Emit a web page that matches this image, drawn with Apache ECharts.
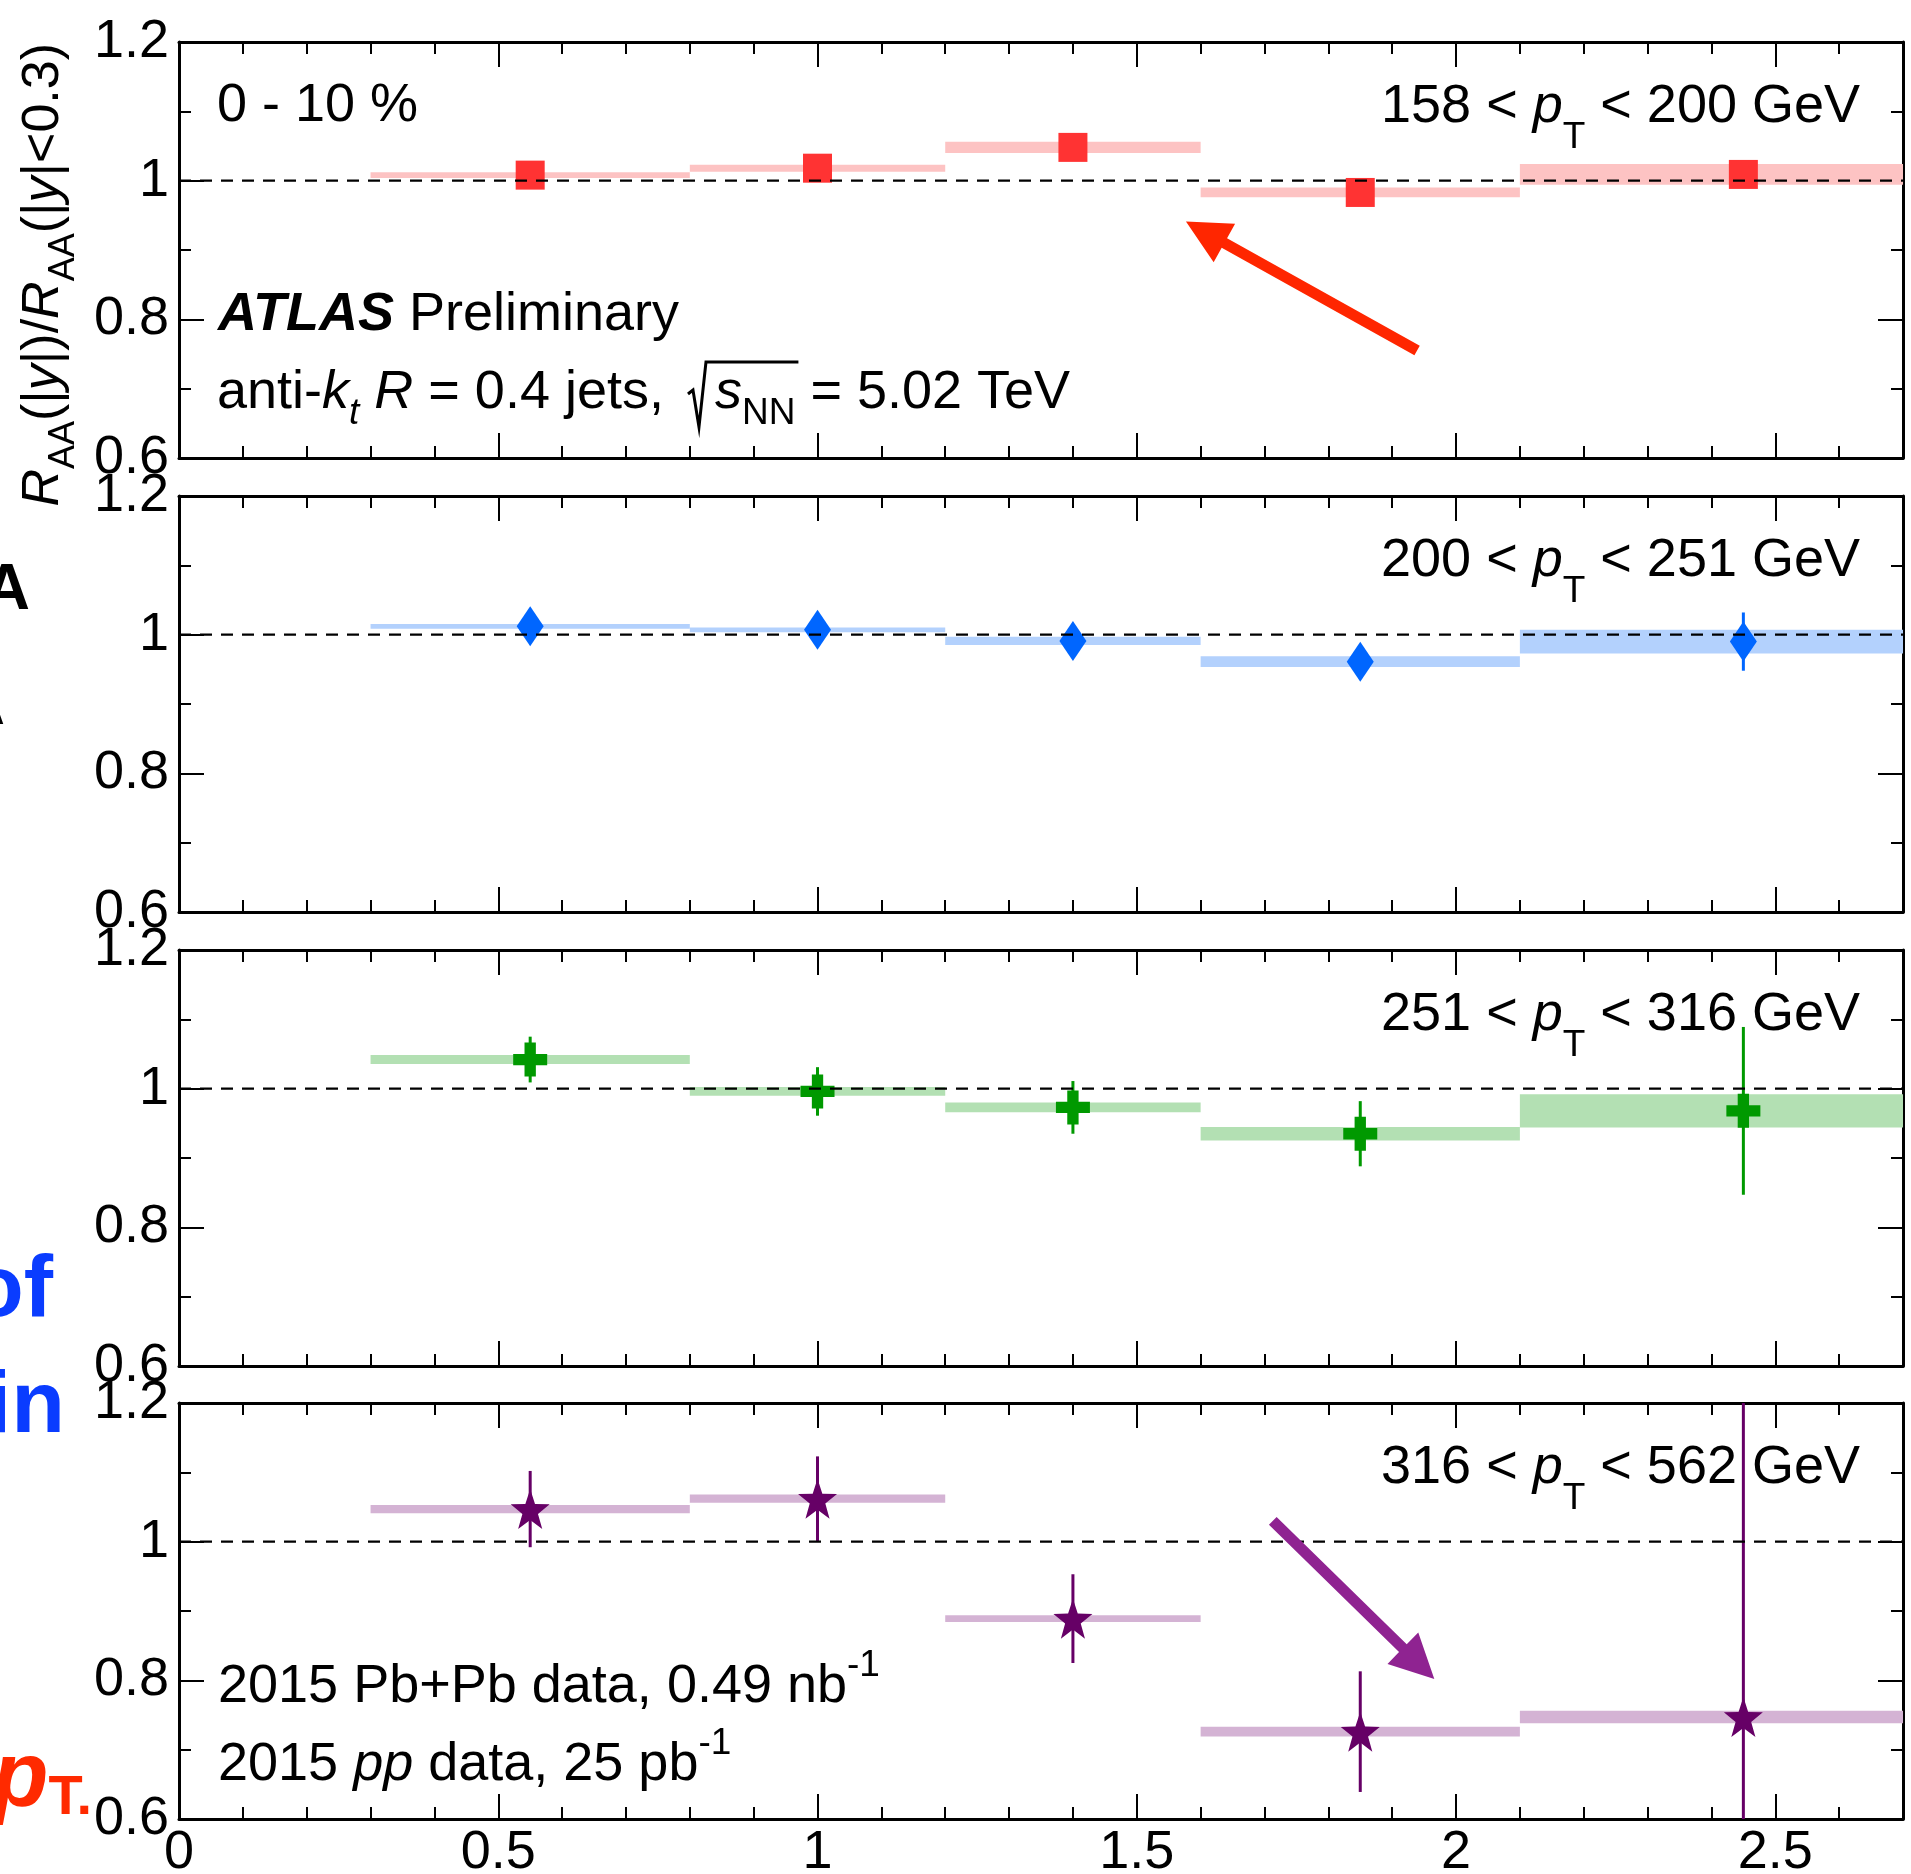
<!DOCTYPE html>
<html>
<head>
<meta charset="utf-8">
<script src="https://cdn.jsdelivr.net/npm/echarts@6/dist/echarts.min.js"></script>
<style>
  html, body { margin: 0; padding: 0; background: #ffffff; }
  #chart { width: 1911px; height: 1874px; }
</style>
</head>
<body>
<div id="chart"></div>
<script>
// ---- data -------------------------------------------------------------
// |y| bin edges and bin centres
const binEdges   = [0.3, 0.8, 1.2, 1.6, 2.1, 2.8];
const binCenters = [0.55, 1.0, 1.4, 1.85, 2.45];

// jet pT ranges in GeV, one per panel
const ptRanges = [[158, 200], [200, 251], [251, 316], [316, 562]];

// R_AA(|y|)/R_AA(|y|<0.3), statistical and systematic uncertainties
const ratio158 = [1.008, 1.018, 1.048, 0.983, 1.009];
const stat158  = [0.006, 0.007, 0.008, 0.009, 0.012];
const sys158   = [0.004, 0.005, 0.008, 0.007, 0.015];

const ratio200 = [1.012, 1.007, 0.991, 0.961, 0.990];
const stat200  = [0.010, 0.010, 0.012, 0.015, 0.042];
const sys200   = [0.0035, 0.0035, 0.006, 0.0077, 0.017];

const ratio251 = [1.042, 0.996, 0.973, 0.935, 0.968];
const stat251  = [0.033, 0.035, 0.038, 0.047, 0.121];
const sys251   = [0.0065, 0.0063, 0.007, 0.0098, 0.024];

const ratio316 = [1.047, 1.062, 0.889, 0.726, 0.747];
const stat316  = [0.055, 0.061, 0.064, 0.087, 0.550];
const sys316   = [0.006, 0.006, 0.005, 0.007, 0.009];

// axes
const xRange = [0, 2.7];
const yRange = [0.6, 1.2];
const xMajor = 0.5, xMinor = 0.1, yMajor = 0.2;
const unity = 1;

// annotation arrows [x_tail, y_tail, x_tip, y_tip] in data units
const arrowTop    = [[1.939, 0.755, 1.577, 0.941]];
const arrowBottom = [[1.713, 1.030, 1.966, 0.802]];

// ---- layout & style ---------------------------------------------------
const FONT = 'Liberation Sans';
const FS = 54, SS = 37, P = 14;
const TFS = 52, TSS = 36;          // axis title sizes
const K = 0.77;                    // baseline position as a fraction of the font size
const GRID_LEFT = 179, GRID_RIGHT = 8, GRID_H = 416;
const gridTops = [42, 496, 950, 1403];

function starSymbol() {
  const pts = [];
  for (let k = 0; k < 10; k++) {
    const a = -Math.PI / 2 + k * Math.PI / 5;
    const r = (k % 2) ? 0.4 : 1;
    pts.push((r * Math.cos(a)).toFixed(4) + ',' + (r * Math.sin(a)).toFixed(4));
  }
  return 'path://M' + pts.join('L') + 'Z';
}
const plusSymbol = 'path://M1,0H2V1H3V2H2V3H1V2H0V1H1Z';

const panels = [
  { ratio: ratio158, stat: stat158, sys: sys158, color: '#ff3333', band: '#fdc3c3', symbol: 'rect',       size: 29 },
  { ratio: ratio200, stat: stat200, sys: sys200, color: '#0066ff', band: '#b3d1fd', symbol: 'diamond',    size: [27, 40] },
  { ratio: ratio251, stat: stat251, sys: sys251, color: '#009900', band: '#b3e0b3', symbol: plusSymbol,   size: 34 },
  { ratio: ratio316, stat: stat316, sys: sys316, color: '#660066', band: '#d4b3d4', symbol: starSymbol(), size: [39, 40] }
];

const chart = echarts.init(document.getElementById('chart'), null, { renderer: 'canvas' });

// ---- axes -------------------------------------------------------------
const grids = [], xAxes = [], yAxes = [];
const blackLine = { color: '#000', width: 3 };
const tickLine = { color: '#000', width: 2 };
const labelStyle = { fontFamily: FONT, fontSize: FS, color: '#000' };

gridTops.forEach((top, g) => {
  grids.push({ left: GRID_LEFT, right: GRID_RIGHT, top: top, height: GRID_H, containLabel: false, outerBoundsMode: 'none' });
  const last = g === gridTops.length - 1;
  ['bottom', 'top'].forEach(pos => {
    // major ticks (with labels on the lowest panel)
    xAxes.push({
      type: 'value', gridIndex: g, position: pos, min: xRange[0], max: xRange[1], interval: xMajor,
      axisLine: { show: true, onZero: false, lineStyle: blackLine },
      axisTick: { show: true, inside: true, length: 25, lineStyle: tickLine },
      splitLine: { show: false },
      axisLabel: {
        show: last && pos === 'bottom', margin: 7, ...labelStyle,
        formatter: v => (Math.abs(v / xMajor - Math.round(v / xMajor)) < 1e-6 ? String(+v.toFixed(1)) : '')
      }
    });
    // minor ticks
    xAxes.push({
      type: 'value', gridIndex: g, position: pos, min: xRange[0], max: xRange[1], interval: xMinor,
      axisLine: { show: false, onZero: false },
      axisTick: { show: true, inside: true, length: 12, lineStyle: tickLine },
      splitLine: { show: false },
      axisLabel: { show: false }
    });
  });
  ['left', 'right'].forEach(pos => {
    yAxes.push({
      type: 'value', gridIndex: g, position: pos, min: yRange[0], max: yRange[1], interval: yMajor,
      axisLine: { show: true, onZero: false, lineStyle: blackLine },
      axisTick: { show: true, inside: true, length: 25, lineStyle: tickLine },
      minorTick: { show: true, splitNumber: 2, length: 12, lineStyle: tickLine },
      splitLine: { show: false },
      axisLabel: {
        show: pos === 'left', margin: 10, ...labelStyle,
        formatter: v => (Math.abs(v - 1) < 1e-9 ? '1' : v.toFixed(1))
      }
    });
  });
});

// ---- series -----------------------------------------------------------
const series = [];
function plotRect(cs) { return { x: cs.x, y: cs.y, width: cs.width, height: cs.height }; }

panels.forEach((p, g) => {
  const xi = 4 * g, yi = 2 * g;
  // systematic uncertainty boxes
  series.push({
    type: 'custom', xAxisIndex: xi, yAxisIndex: yi, z: 1, silent: true,
    data: p.ratio.map((v, i) => [binEdges[i], binEdges[i + 1], v, p.sys[i]]),
    encode: { x: [0, 1], y: 2 },
    renderItem(params, api) {
      const a = api.coord([api.value(0), api.value(2) + api.value(3)]);
      const b = api.coord([api.value(1), api.value(2) - api.value(3)]);
      const r = echarts.graphic.clipRectByRect(
        { x: a[0], y: a[1], width: b[0] - a[0], height: b[1] - a[1] }, plotRect(params.coordSys));
      return r ? { type: 'rect', shape: r, style: { fill: p.band } } : null;
    }
  });
  // statistical error bars
  series.push({
    type: 'custom', xAxisIndex: xi, yAxisIndex: yi, z: 2, silent: true,
    data: p.ratio.map((v, i) => [binCenters[i], v, p.stat[i]]),
    encode: { x: 0, y: 1 },
    renderItem(params, api) {
      const t = api.coord([api.value(0), api.value(1) + api.value(2)]);
      const b = api.coord([api.value(0), api.value(1) - api.value(2)]);
      const r = echarts.graphic.clipRectByRect(
        { x: t[0] - 1.5, y: t[1], width: 3, height: b[1] - t[1] }, plotRect(params.coordSys));
      return r ? { type: 'rect', shape: r, style: { fill: p.color } } : null;
    }
  });
  // data points
  series.push({
    type: 'scatter', xAxisIndex: xi, yAxisIndex: yi, z: 3, silent: true,
    symbol: p.symbol, symbolSize: p.size,
    itemStyle: { color: p.color, opacity: 1 },
    data: p.ratio.map((v, i) => [binCenters[i], v])
  });
  // reference line at unity
  series.push({
    type: 'line', xAxisIndex: xi, yAxisIndex: yi, z: 4, silent: true,
    showSymbol: false, symbol: 'none',
    lineStyle: { color: '#000', width: 2.2, type: [12, 9] },
    data: [[xRange[0], unity], [xRange[1], unity]]
  });
});

function arrowSeries(g, data, color) {
  return {
    type: 'custom', xAxisIndex: 4 * g, yAxisIndex: 2 * g, z: 6, silent: true,
    data: data, encode: { x: [0, 2], y: [1, 3] },
    renderItem(params, api) {
      const a = api.coord([api.value(0), api.value(1)]);
      const b = api.coord([api.value(2), api.value(3)]);
      const dx = b[0] - a[0], dy = b[1] - a[1], L = Math.hypot(dx, dy);
      const ux = dx / L, uy = dy / L, nx = -uy, ny = ux;
      const hl = 44, hw = 22, sw = 5.5;
      const bx = b[0] - ux * hl, by = b[1] - uy * hl;
      const pts = [
        [a[0] + nx * sw, a[1] + ny * sw], [bx + nx * sw, by + ny * sw], [bx + nx * hw, by + ny * hw],
        [b[0], b[1]],
        [bx - nx * hw, by - ny * hw], [bx - nx * sw, by - ny * sw], [a[0] - nx * sw, a[1] - ny * sw]
      ];
      return { type: 'polygon', shape: { points: pts }, style: { fill: color } };
    }
  };
}
series.push(arrowSeries(0, arrowTop, '#ff2600'));
series.push(arrowSeries(3, arrowBottom, '#8f2391'));

// ---- text -------------------------------------------------------------
// Rich-text styles: main text, italic, bold italic, subscripts and superscripts.
function makeRich(fs, ss) {
  const base = { fontFamily: FONT, fill: '#000', verticalAlign: 'top' };
  const drop = K * (fs - ss);
  return {
    n:    { ...base, fontSize: fs, padding: [P, 0, 0, 0] },
    i:    { ...base, fontSize: fs, fontStyle: 'italic', padding: [P, 0, 0, 0] },
    bi:   { ...base, fontSize: fs, fontStyle: 'italic', fontWeight: 'bold', padding: [P, 0, 0, 0] },
    sub:  { ...base, fontSize: ss, padding: [P + drop + 16, 0, 0, 0] },
    subi: { ...base, fontSize: ss, fontStyle: 'italic', padding: [P + drop + 16, 0, 0, 0] },
    subT: { ...base, fontSize: ss, padding: [P + drop + 26, 0, 0, 0] },
    sup:  { ...base, fontSize: ss, padding: [Math.max(0, P + drop - 26), 0, 0, 0] }
  };
}
const rich = makeRich(FS, SS);
const richTitle = makeRich(TFS, TSS);
const LINE_OFF = P + K * FS;   // block top to main baseline

function richText(x, baseline, text, align) {
  return {
    type: 'text', x: x, y: baseline - LINE_OFF, z: 100, silent: true,
    style: { text: text, rich: rich, align: align || 'left', verticalAlign: 'top', fill: '#000', fontFamily: FONT, fontSize: FS }
  };
}

const measureCtx = document.createElement('canvas').getContext('2d');
function tw(text, size, style, weight) {
  measureCtx.font = (style || 'normal') + ' ' + (weight || 'normal') + ' ' + size + 'px "' + FONT + '"';
  return measureCtx.measureText(text).width;
}

const graphics = [];

// y-axis title, rotated
graphics.push({
  type: 'text', x: 58 - (P + K * TFS), y: 43, rotation: Math.PI / 2, z: 100, silent: true,
  style: {
    text: '{i|R}{sub|AA}{n|(|}{i|y}{n||)/}{i|R}{sub|AA}{n|(|}{i|y}{n||<0.3)}',
    rich: richTitle, align: 'right', verticalAlign: 'top', fill: '#000', fontFamily: FONT, fontSize: TFS
  }
});

// pT range labels
ptRanges.forEach((r, g) => {
  graphics.push(richText(1860, gridTops[g] + 80,
    '{n|' + r[0] + ' < }{i|p}{subT|T}{n| < ' + r[1] + ' GeV}', 'right'));
});

graphics.push(richText(217, 121, '{n|0 - 10 %}'));
graphics.push(richText(218, 330, '{bi|ATLAS}{n| Preliminary}'));

// jet definition line with the square root drawn by hand
const jetX = 217, jetB = 408;
const jetText = '{n|anti-}{i|k}{subi|t}{n| }{i|R}{n| = 0.4 jets, }';
const wJet = tw('anti-', FS) + tw('k', FS, 'italic') + tw('t', SS, 'italic') + tw(' ', FS) +
             tw('R', FS, 'italic') + tw(' = 0.4 jets, ', FS);
graphics.push(richText(jetX, jetB, jetText));
const rx = jetX + wJet + 9;
const sX = rx + 27;
const barEnd = sX + tw('s', FS, 'italic') + tw('NN', SS) + 3;
graphics.push({
  type: 'polyline', z: 100, silent: true,
  shape: { points: [[rx, jetB - 14], [rx + 5, jetB - 18], [rx + 11, jetB + 19], [rx + 18, jetB - 46], [barEnd, jetB - 46]] },
  style: { stroke: '#000', lineWidth: 3, fill: null, lineJoin: 'miter' }
});
graphics.push(richText(sX, jetB, '{i|s}{sub|NN}{n| = 5.02 TeV}'));

// luminosity labels
graphics.push(richText(218, 1702, '{n|2015 Pb+Pb data, 0.49 nb}{sup|-1}'));
graphics.push(richText(218, 1780, '{n|2015 }{i|pp}{n| data, 25 pb}{sup|-1}'));

// slide text running in from the left edge
function edgeText(x, y, text, size, color) {
  return {
    type: 'text', x: x, y: y, z: 100, silent: true,
    style: { text: text, fontFamily: FONT, fontSize: size, fontWeight: 'bold', fill: color, align: 'right', verticalAlign: 'middle' }
  };
}
graphics.push(edgeText(30, 591, 'A', 64, '#000'));
graphics.push(edgeText(5, 706, 'A', 64, '#000'));
graphics.push(edgeText(53, 1292, 'of', 88, '#0a3cff'));
graphics.push(edgeText(65, 1408, 'in', 88, '#0a3cff'));
graphics.push({
  type: 'text', x: 92, y: 1827, z: 100, silent: true,
  style: {
    text: '{p|p}{t|T.}', align: 'right', verticalAlign: 'bottom', fill: '#ff2a00',
    rich: {
      p: { fontFamily: FONT, fontSize: 92, fontStyle: 'italic', fontWeight: 'bold', fill: '#ff2a00', verticalAlign: 'bottom' },
      t: { fontFamily: FONT, fontSize: 56, fontWeight: 'bold', fill: '#ff2a00', verticalAlign: 'bottom' }
    }
  }
});

chart.setOption({
  animation: false,
  backgroundColor: '#ffffff',
  grid: grids,
  xAxis: xAxes,
  yAxis: yAxes,
  series: series,
  graphic: { elements: graphics }
});
</script>
</body>
</html>
